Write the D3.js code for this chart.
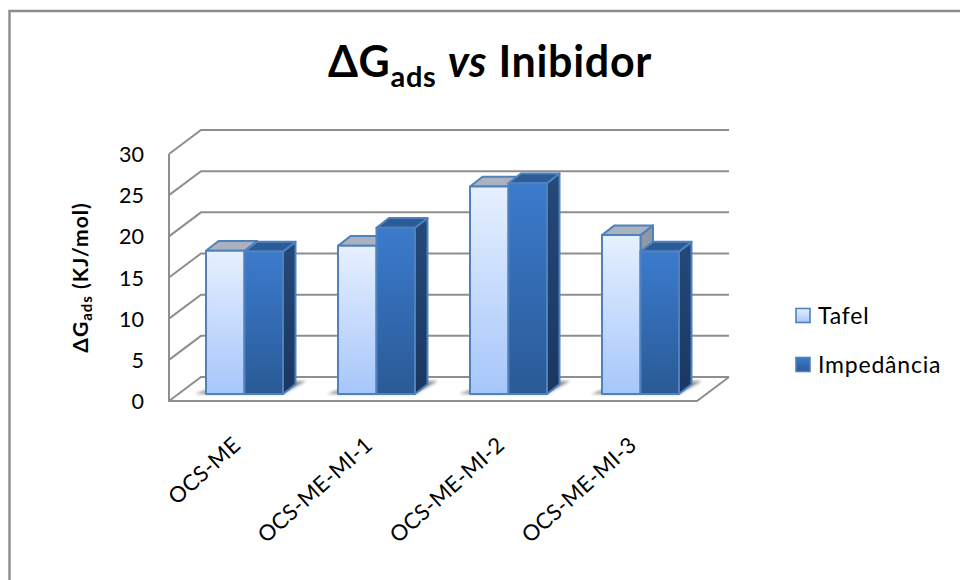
<!DOCTYPE html>
<html><head><meta charset="utf-8">
<script src="https://cdnjs.cloudflare.com/ajax/libs/d3/7.8.5/d3.min.js"></script>
<style>html,body{margin:0;padding:0;background:#fff}svg{display:block}</style>
</head><body><div id="c"></div>
<script>
const categories = ["OCS-ME","OCS-ME-MI-1","OCS-ME-MI-2","OCS-ME-MI-3"];
const seriesNames = ["Tafel","Impedância"];
const tafel = [17.4,18.0,25.2,19.3];
const impedancia = [17.3,20.2,25.6,17.3];
const yTicks = [0,5,10,15,20,25,30];

const font = 'Lato,sans-serif';
const svg = d3.select("#c").append("svg").attr("width",960).attr("height",580);
const defs = svg.append("defs");
function grad(id,a,b){const g=defs.append("linearGradient").attr("id",id).attr("x1",0).attr("x2",0).attr("y1",0).attr("y2",1);
 g.append("stop").attr("offset",0).attr("stop-color",a);g.append("stop").attr("offset",1).attr("stop-color",b);}
grad("gT","#e6f0ff","#a6c6fb");
grad("gI","#3b7bcd","#2a5a96");
grad("gS","#24497a","#1a3760");
defs.append("filter").attr("id","shadow").attr("x","-30%").attr("y","-100%").attr("width","160%").attr("height","300%")
 .append("feGaussianBlur").attr("stdDeviation",1.5);

svg.append("path").attr("d","M9.5,580V11H960").attr("fill","none").attr("stroke","#8c8c8c").attr("stroke-width",2.4);

const dx=32, dy=-24;
const x0=169, x1=697;
const y = d3.scaleLinear().domain([0,30]).range([401,154]);
const x = d3.scaleBand().domain(categories).range([x0,x1]);
const grid = svg.append("g").attr("fill","none").attr("stroke","#8e8e8e").attr("stroke-width",2);
yTicks.forEach(t=>{
  grid.append("path").attr("d",`M${x0},${y(t)}L${x0+dx},${y(t)+dy}L${x1+dx},${y(t)+dy}`);
});
grid.append("path").attr("d",`M${x0},${y(30)}V${y(0)}H${x1}L${x1+dx},${y(0)+dy}`);

const inner = d3.scaleBand().domain(seriesNames).range([0,77]);
const bx = c => x(c)+37;
const baseOff = 7;
const floorY = y(0)-baseOff;
const scaleV = v => y(v)-baseOff;

const marks = svg.append("g");
categories.forEach(c=>{
  marks.append("path").attr("d",`M${bx(c)-11},${floorY}L${bx(c)+77},${floorY}L${bx(c)+77+23},${floorY-13}L${bx(c)+77},${floorY-13}L${bx(c)},${floorY-4}Z`)
   .attr("fill","#666").attr("opacity",.7).attr("filter","url(#shadow)");
});
const bdx=12.5, bdy=-9.7;
const stroke="#4f81bd";
categories.forEach((c,i)=>{
  const vals=[tafel[i],impedancia[i]];
  seriesNames.forEach((s,k)=>{
    const xl=bx(c)+inner(s), w=inner.bandwidth(), yt=scaleV(vals[k]);
    const g=marks.append("g").attr("stroke",stroke).attr("stroke-width",2).attr("stroke-linejoin","round");
    g.append("path").attr("d",`M${xl+w},${yt}L${xl+w+bdx},${yt+bdy}V${floorY+bdy}L${xl+w},${floorY}Z`)
      .attr("fill",k?"url(#gS)":"#8f98a6");
    g.append("path").attr("d",`M${xl},${yt}L${xl+bdx},${yt+bdy}H${xl+w+bdx}L${xl+w},${yt}Z`)
      .attr("fill",k?"#2b5c98":"#aab2c0");
    g.append("rect").attr("x",xl).attr("y",yt).attr("width",w).attr("height",floorY-yt)
      .attr("fill",k?"url(#gI)":"url(#gT)");
  });
});

svg.append("g").selectAll("text").data(yTicks).join("text")
 .attr("x",144).attr("y",d=>y(d)+8).attr("text-anchor","end").attr("font-family",font).attr("font-size",21.5).attr("fill","#000").text(d=>d);

svg.append("g").selectAll("text").data(categories).join("text")
 .attr("transform",c=>`translate(${bx(c)+36},${447}) rotate(-42)`)
 .attr("text-anchor","end").attr("font-family",font).attr("font-size",22).attr("letter-spacing",0.35).attr("fill","#000").text(c=>c);

const yt=svg.append("text").attr("transform","translate(88,277.5) rotate(-90)").attr("text-anchor","middle")
 .attr("font-family",font).attr("font-size",21).attr("font-weight",700).attr("letter-spacing",1);
yt.append("tspan").text("ΔG");
yt.append("tspan").attr("dy",4).attr("font-size",15).text("ads");
yt.append("tspan").attr("dy",-4).text(" (KJ/mol)");

const tt=svg.append("text").attr("x",490).attr("y",77).attr("text-anchor","middle").attr("font-family",font).attr("font-size",43).attr("font-weight",700).attr("letter-spacing",0.7);
tt.append("tspan").text("ΔG");
tt.append("tspan").attr("dy",10).attr("font-size",29).text("ads");
tt.append("tspan").attr("dy",-10).text(" ");
tt.append("tspan").attr("font-style","italic").text("vs");
tt.append("tspan").text(" Inibidor");

const lg=svg.append("g");
seriesNames.forEach((s,i)=>{
  const ly=[315.5,364.5][i];
  lg.append("rect").attr("x",796).attr("y",ly-7).attr("width",14).attr("height",14)
    .attr("fill",i?"url(#gI)":"url(#gT)").attr("stroke",stroke).attr("stroke-width",1.6);
  lg.append("text").attr("x",818).attr("y",ly+8).attr("font-family",font).attr("font-size",23).attr("letter-spacing",0.8).text(s);
});
</script></body></html>
